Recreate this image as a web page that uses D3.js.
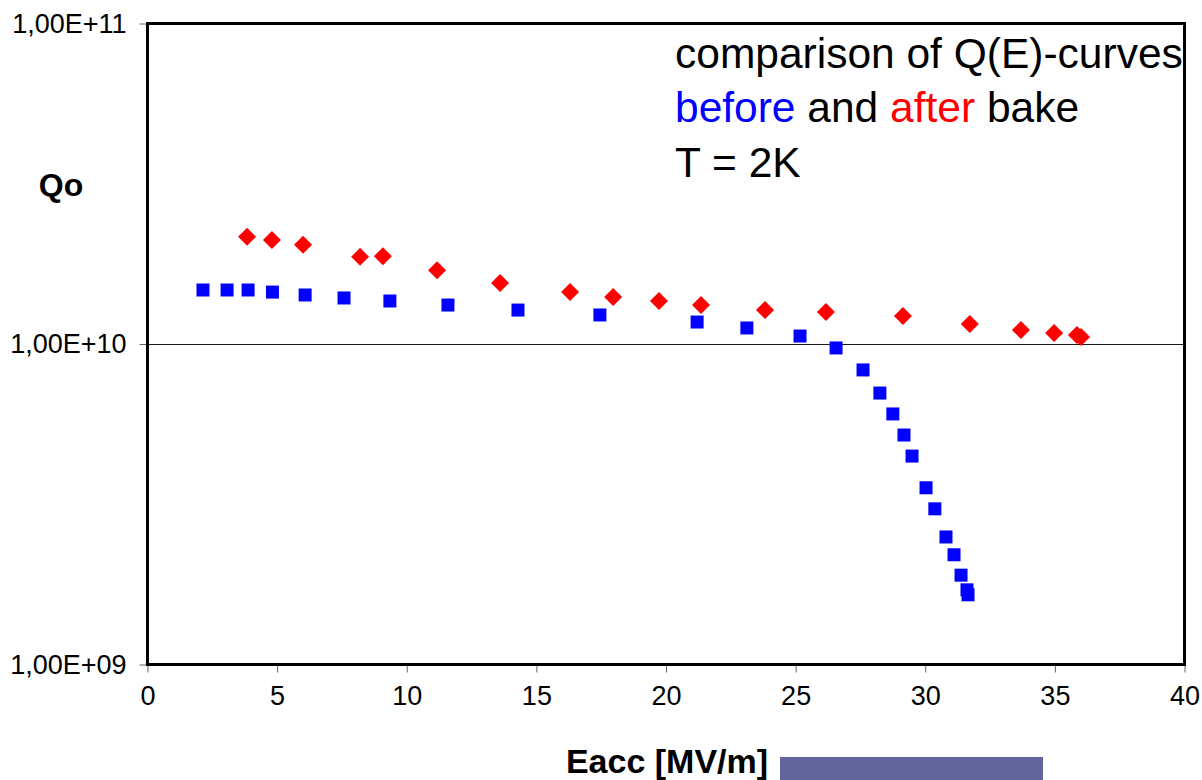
<!DOCTYPE html>
<html>
<head>
<meta charset="utf-8">
<script src="https://cdn.jsdelivr.net/npm/d3@7"></script>
<style>
  body { margin: 0; background: #fff; }
  svg { display: block; font-family: "Liberation Sans", Arial, sans-serif; }
</style>
</head>
<body>
<div id="chart"></div>
<script>
// Q0 vs Eacc, before (blue) and after (red) bake
var beforeE = [2.14, 3.07, 3.88, 4.82, 6.08, 7.58, 9.35, 11.59, 14.29, 17.45, 21.20, 23.12, 25.17,
               26.56, 27.60, 28.25, 28.75, 29.18, 29.49, 30.03, 30.37, 30.80, 31.11, 31.38, 31.61, 31.65];
var beforeQ = [1.474e10, 1.474e10, 1.474e10, 1.452e10, 1.422e10, 1.392e10, 1.362e10, 1.323e10, 1.276e10,
               1.232e10, 1.171e10, 1.122e10, 1.059e10, 9.72e9, 8.30e9, 7.03e9, 6.05e9, 5.20e9, 4.47e9,
               3.56e9, 3.06e9, 2.50e9, 2.20e9, 1.90e9, 1.71e9, 1.65e9];

var afterE = [3.84, 4.80, 6.00, 8.20, 9.08, 11.17, 13.60, 16.30, 17.96, 19.73, 21.35, 23.82, 26.17,
              29.14, 31.72, 33.69, 34.97, 35.85, 36.01];
var afterQ = [2.16e10, 2.11e10, 2.04e10, 1.87e10, 1.88e10, 1.70e10, 1.55e10, 1.452e10, 1.402e10,
              1.362e10, 1.323e10, 1.276e10, 1.258e10, 1.223e10, 1.155e10, 1.106e10, 1.082e10,
              1.067e10, 1.051e10];

var xTicks = [0, 5, 10, 15, 20, 25, 30, 35, 40];
var yTicks = [1e9, 1e10, 1e11];
var yTickLabels = ["1,00E+09", "1,00E+10", "1,00E+11"];

// plot box (avoid the global name "top")
var W = 1202, H = 780;
var margin = { left: 147.5, right: 1184.5, top: 23.5, bottom: 664.5 };

var svg = d3.select("#chart").append("svg")
  .attr("width", W)
  .attr("height", H);

var x = d3.scaleLinear().domain([0, 40]).range([margin.left, margin.right]);
var y = d3.scaleLog().domain([1e9, 1e11]).range([margin.bottom, margin.top]);

// gridline at 1E10
var gy = Math.round(y(1e10)) + 0.5;
svg.append("line")
  .attr("x1", margin.left).attr("x2", margin.right)
  .attr("y1", gy).attr("y2", gy)
  .attr("stroke", "#1a1a1a").attr("stroke-width", 1);

// axes
var yAxis = svg.append("g")
  .attr("transform", "translate(" + margin.left + ",0)")
  .call(d3.axisLeft(y).tickValues(yTicks)
    .tickFormat(function(d, i) { return yTickLabels[i]; })
    .tickSize(8).tickPadding(13));

var xAxis = svg.append("g")
  .attr("transform", "translate(0," + margin.bottom + ")")
  .call(d3.axisBottom(x).tickValues(xTicks).tickSize(8).tickPadding(13));

[yAxis, xAxis].forEach(function(a) {
  a.select(".domain").remove();
  a.selectAll(".tick line").attr("stroke", "#666").attr("stroke-width", 1);
  a.selectAll(".tick text")
    .attr("font-family", "Liberation Sans, Arial, sans-serif")
    .attr("font-size", 27)
    .attr("fill", "#000");
});
xAxis.selectAll(".tick text").attr("dy", "0.71em");

// data points
var before = beforeE.map(function(e, i) { return { e: e, q: beforeQ[i] }; });
var after = afterE.map(function(e, i) { return { e: e, q: afterQ[i] }; });

svg.append("g").selectAll("path")
  .data(before)
  .enter().append("path")
  .attr("d", d3.symbol().type(d3.symbolSquare).size(169))
  .attr("transform", function(d) { return "translate(" + x(d.e) + "," + y(d.q) + ")"; })
  .attr("fill", "#0000ff");

svg.append("g").selectAll("path")
  .data(after)
  .enter().append("path")
  .attr("d", d3.symbol().type(d3.symbolSquare).size(162))
  .attr("transform", function(d) { return "translate(" + x(d.e) + "," + y(d.q) + ") rotate(45)"; })
  .attr("fill", "#ff0000");

// frame
svg.append("rect")
  .attr("x", margin.left).attr("y", margin.top)
  .attr("width", margin.right - margin.left).attr("height", margin.bottom - margin.top)
  .attr("fill", "none")
  .attr("stroke", "#000")
  .attr("stroke-width", 3);

// axis titles
svg.append("text")
  .attr("x", 61).attr("y", 196)
  .attr("text-anchor", "middle")
  .attr("font-size", 32).attr("font-weight", "bold")
  .text("Qo");

svg.append("text")
  .attr("x", 667).attr("y", 773)
  .attr("text-anchor", "middle")
  .attr("font-size", 34).attr("font-weight", "bold")
  .text("Eacc [MV/m]");

// annotation
var note = svg.append("g").attr("font-size", 42.5);
note.append("text").attr("x", 675).attr("y", 68).text("comparison of Q(E)-curves");
var l2 = note.append("text").attr("x", 675).attr("y", 122);
l2.append("tspan").attr("fill", "#0000ff").text("before");
l2.append("tspan").text(" and ");
l2.append("tspan").attr("fill", "#ff0000").text("after");
l2.append("tspan").text(" bake");
note.append("text").attr("x", 675).attr("y", 177).text("T = 2K");

// cropped picture strip at bottom
svg.append("rect")
  .attr("x", 780).attr("y", 757)
  .attr("width", 263).attr("height", 23)
  .attr("fill", "#62649c");
</script>
</body>
</html>
